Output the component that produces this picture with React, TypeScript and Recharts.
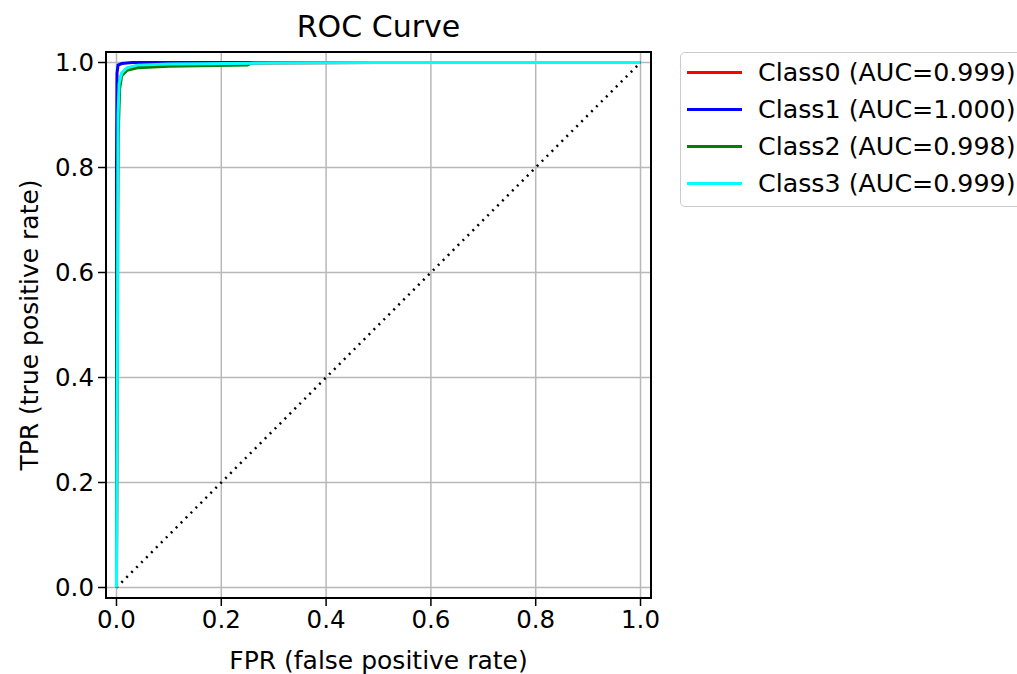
import { LineChart, Line, XAxis, YAxis, CartesianGrid, Legend, ReferenceArea } from 'recharts'

const ticks = [0, 0.2, 0.4, 0.6, 0.8, 1.0]

const classNames = ['Class0 (AUC=0.999)', 'Class1 (AUC=1.000)', 'Class2 (AUC=0.998)', 'Class3 (AUC=0.999)']
const classColors = ['#ff0000', '#0000ff', '#008000', '#00ffff']

const class0Fpr = [0, 0.002, 0.003, 0.005, 0.01, 0.02, 0.04, 0.1, 0.3, 0.5, 1]
const class0Tpr = [0, 0.5, 0.89, 0.958, 0.979, 0.989, 0.994, 0.997, 0.999, 1.0, 1]

const class1Fpr = [0, 0, 0.001, 0.003, 0.01, 0.03, 1]
const class1Tpr = [0, 0.8, 0.98, 0.995, 0.998, 1.0, 1]

const class2Fpr = [0, 0.001, 0.003, 0.006, 0.01, 0.02, 0.04, 0.1, 0.25, 0.26, 1]
const class2Tpr = [0, 0.6, 0.85, 0.95, 0.975, 0.985, 0.99, 0.993, 0.995, 1.0, 1]

const class3Fpr = [0, 0.002, 0.003, 0.005, 0.01, 0.02, 0.04, 0.1, 0.3, 0.5, 1]
const class3Tpr = [0, 0.5, 0.9, 0.96, 0.98, 0.99, 0.995, 0.997, 0.999, 1.0, 1]

const chanceFpr = [0, 1]
const chanceTpr = [0, 1]

const zip = (xs: number[], ys: number[]) => xs.map((fpr, i) => ({ fpr, tpr: ys[i] }))

const series = [
  zip(class0Fpr, class0Tpr),
  zip(class1Fpr, class1Tpr),
  zip(class2Fpr, class2Tpr),
  zip(class3Fpr, class3Tpr),
]

const FONT = '"DejaVu Sans", sans-serif'
const tickStyle = { fill: '#000', fontSize: 24.5, fontFamily: FONT }

function LegendBox(props: any) {
  const items = (props.payload || []).filter((p: any) => p.type !== 'none')
  return (
    <div
      style={{
        border: '1.5px solid #cccccc',
        borderRadius: 5,
        background: '#fff',
        padding: '1px 12px 4px 6px',
        fontFamily: FONT,
        fontSize: 25.3,
        color: '#000',
        whiteSpace: 'nowrap',
      }}
    >
      {items.map((p: any) => (
        <div key={p.value} style={{ height: 37, display: 'flex', alignItems: 'center' }}>
          <span style={{ display: 'inline-block', width: 55, height: 3, background: p.color, marginRight: 16 }} />
          <span>{p.value}</span>
        </div>
      ))}
    </div>
  )
}

export default function App() {
  return (
    <div style={{ position: 'fixed', left: 0, top: 0, width: 1017, height: 674, overflow: 'hidden', background: '#fff' }}>
      <div
        style={{
          position: 'absolute',
          left: 106,
          width: 545,
          top: 9,
          textAlign: 'center',
          fontFamily: FONT,
          fontSize: 30,
          color: '#000',
          lineHeight: '36px',
        }}
      >
        ROC Curve
      </div>
      <LineChart width={1017} height={674} margin={{ top: 52, right: 366, bottom: 0, left: 0 }}>
        <CartesianGrid stroke="#b8b8b8" strokeWidth={1.5} />
        <XAxis
          dataKey="fpr"
          type="number"
          domain={[-0.02, 1.02]}
          ticks={ticks}
          allowDataOverflow
          tickFormatter={(v: number) => v.toFixed(1)}
          tick={tickStyle}
          tickSize={8}
          tickMargin={5}
          tickLine={{ stroke: '#000', strokeWidth: 1.5 }}
          axisLine={{ stroke: '#000', strokeWidth: 2 }}
          height={76}
          label={{
            content: (p: any) => (
              <text
                x={p.viewBox.x + p.viewBox.width / 2}
                y={p.viewBox.y + 62}
                textAnchor="middle"
                dominantBaseline="central"
                fontSize={25}
                fontFamily={FONT}
                fill="#000"
              >
                FPR (false positive rate)
              </text>
            ),
          }}
        />
        <YAxis
          dataKey="tpr"
          type="number"
          domain={[-0.02, 1.02]}
          ticks={ticks}
          allowDataOverflow
          tickFormatter={(v: number) => v.toFixed(1)}
          tick={tickStyle}
          tickSize={8}
          tickMargin={4}
          tickLine={{ stroke: '#000', strokeWidth: 1.5 }}
          axisLine={{ stroke: '#000', strokeWidth: 2 }}
          width={106}
          label={{
            content: (p: any) => {
              const cx = 29
              const cy = p.viewBox.y + p.viewBox.height / 2
              return (
                <text
                  x={cx}
                  y={cy}
                  transform={`rotate(-90, ${cx}, ${cy})`}
                  textAnchor="middle"
                  dominantBaseline="central"
                  fontSize={25}
                  fontFamily={FONT}
                  fill="#000"
                >
                  TPR (true positive rate)
                </text>
              )
            },
          }}
        />
        <ReferenceArea x1={-0.02} x2={1.02} y1={-0.02} y2={1.02} fill="none" fillOpacity={0} stroke="#000" strokeWidth={2} />
        <Line
          data={zip(chanceFpr, chanceTpr)}
          dataKey="tpr"
          type="linear"
          stroke="#000"
          strokeWidth={2.5}
          strokeDasharray="2 5"
          dot={false}
          legendType="none"
          isAnimationActive={false}
        />
        {series.map((d, i) => (
          <Line
            key={classNames[i]}
            data={d}
            dataKey="tpr"
            name={classNames[i]}
            type="linear"
            stroke={classColors[i]}
            strokeWidth={3}
            dot={false}
            isAnimationActive={false}
          />
        ))}
        <Legend
          layout="vertical"
          align="center"
          verticalAlign="middle"
          content={<LegendBox />}
          wrapperStyle={{ left: 680, top: 52, width: 'auto' }}
        />
      </LineChart>
    </div>
  )
}
